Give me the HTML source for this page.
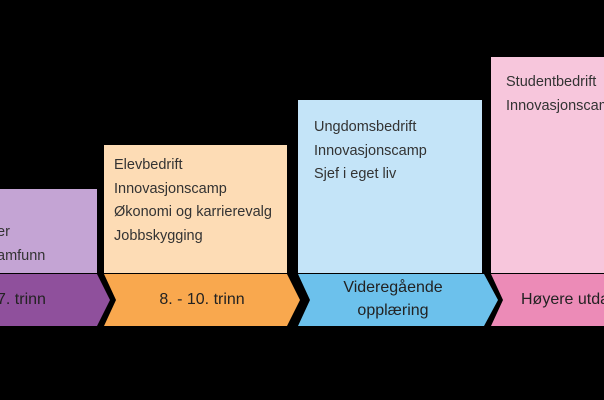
<!DOCTYPE html>
<html><head><style>
html,body{margin:0;width:604px;height:400px;overflow:hidden;}
body{background:#000;position:relative;font-family:"Liberation Sans",sans-serif;}
.b{position:absolute;}
.t{position:absolute;font-size:14.5px;color:#333;line-height:23.5px;white-space:nowrap;}
.l{position:absolute;font-size:16px;color:#222;text-align:center;line-height:23px;white-space:nowrap;}
</style></head><body>
<div class="b" style="left:0;top:189px;width:97px;height:84px;background:#c4a4d4"></div>
<div class="b" style="left:104px;top:145px;width:183px;height:128px;background:#fddcb5"></div>
<div class="b" style="left:298px;top:100px;width:184px;height:173px;background:#c4e4f8"></div>
<div class="b" style="left:491px;top:57px;width:113px;height:216px;background:#f7c6dc"></div>
<svg class="b" style="left:0;top:0" width="604" height="400">
<polygon points="0,274 97,274 110,300 97,326 0,326" fill="#8f509c"/>
<polygon points="104,274 287,274 300,300 287,326 104,326 116,300" fill="#f9a84e"/>
<polygon points="298,274 484,274 498,300 484,326 298,326 310,300" fill="#6cc1ec"/>
<polygon points="491,274 604,274 604,326 491,326 503,300" fill="#ec8bb7"/>
</svg>
<div class="t" style="left:-3px;top:221px">er<br>amfunn</div>
<div class="t" style="left:114px;top:154px">Elevbedrift<br>Innovasjonscamp<br>Økonomi og karrierevalg<br>Jobbskygging</div>
<div class="t" style="left:314px;top:116px">Ungdomsbedrift<br>Innovasjonscamp<br>Sjef i eget liv</div>
<div class="b" style="left:491px;top:57px;width:113px;height:100px;overflow:hidden"><div class="t" style="left:15px;top:14px">Studentbedrift<br>Innovasjonscamp</div></div>
<div class="l" style="left:-3px;top:288px">7. trinn</div>
<div class="l" style="left:104px;width:196px;top:288px">8. - 10. trinn</div>
<div class="l" style="left:298px;width:190px;top:276px">Videregående<br>opplæring</div>
<div class="b" style="left:491px;top:274px;width:113px;height:52px;overflow:hidden"><div class="l" style="left:30px;top:14px;text-align:left">Høyere utdanning</div></div>
</body></html>
